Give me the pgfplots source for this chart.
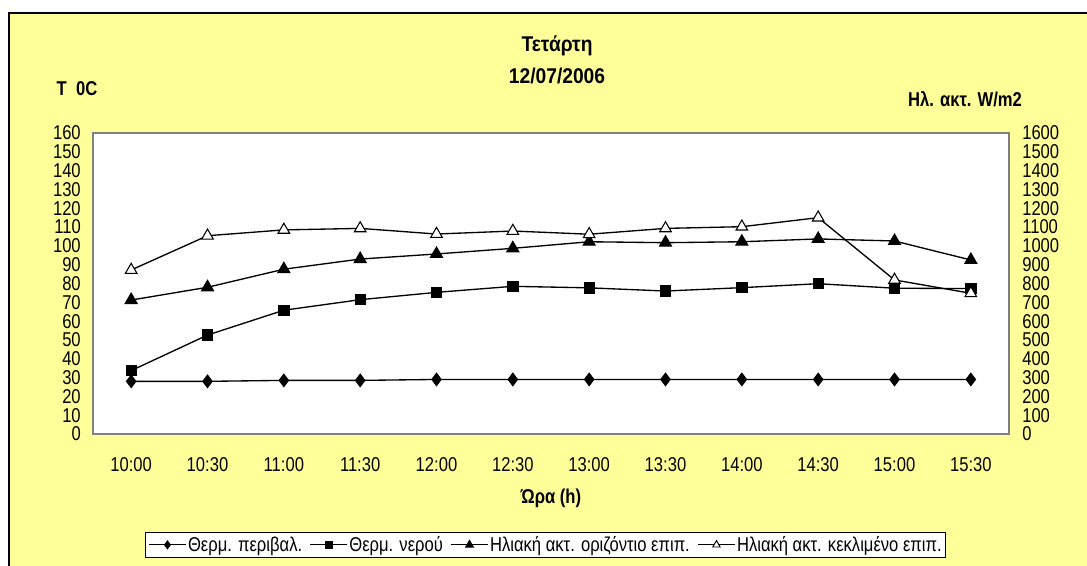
\documentclass[border=0pt]{standalone}
\usepackage{pgfplots}
\pgfplotsset{compat=1.18}
\usepackage{fontspec}
\setmainfont[FakeStretch=0.83]{Liberation Sans}
\newfontfamily\titlefont[FakeStretch=0.9]{Liberation Sans}
\definecolor{chartbg}{RGB}{255,255,153}
\definecolor{axgray}{RGB}{128,128,128}
\newcommand{\chfont}{\fontsize{15}{16}\selectfont}
\begin{document}
\begin{tikzpicture}
\begin{scope}[x=0.75pt,y=-0.75pt]
\useasboundingbox (0,0) rectangle (1087,565);
\fill[white] (0,0) rectangle (1087,565);
\begin{scope}
\clip (0,0) rectangle (1087,565);
\draw[fill=chartbg, draw=black, line width=1.1pt] (9,13) rectangle (1110,590);
\end{scope}
\end{scope}

\begin{axis}[
  at={(69.75pt,-325.5pt)}, anchor=south west,
  scale only axis, width=687pt, height=225.75pt,
  xmin=-0.5, xmax=11.5, ymin=0, ymax=160,
  axis background/.style={fill=white},
  axis line style={axgray, line width=1.1pt},
  xtick={0,...,11},
  xticklabels={10:00,10:30,11:00,11:30,12:00,12:30,13:00,13:30,14:00,14:30,15:00,15:30},
  ytick={0,10,...,160},
  ytick pos=left, xtick pos=bottom,
  major tick length=0pt,
  /pgf/number format/assume math mode=true,
  /pgf/number format/1000 sep={},
  tick label style={font=\chfont},
  yticklabel style={anchor=east, xshift=-9pt, inner sep=0pt},
  xticklabel style={anchor=north, yshift=-17.5pt, inner sep=0pt},
]
\addplot[black, line width=1pt, mark=diamond*, mark size=4.5pt, mark options={solid}] coordinates {(0,28)(1,28)(2,28.5)(3,28.5)(4,29)(5,29)(6,29)(7,29)(8,29)(9,29)(10,29)(11,29)};
\addplot[black, line width=1pt, mark=square*, mark size=3.75pt, mark options={solid}] coordinates {(0,33.7)(1,52.6)(2,65.8)(3,71.4)(4,75.3)(5,78.5)(6,77.7)(7,76.0)(8,77.8)(9,79.9)(10,77.5)(11,77.3)};
\end{axis}

\begin{axis}[
  at={(69.75pt,-325.5pt)}, anchor=south west,
  scale only axis, width=687pt, height=225.75pt,
  xmin=-0.5, xmax=11.5, ymin=0, ymax=1600,
  axis x line=none, axis y line*=right,
  axis line style={axgray, line width=1.1pt},
  ytick={0,100,...,1600},
  major tick length=0pt,
  /pgf/number format/assume math mode=true,
  /pgf/number format/1000 sep={},
  tick label style={font=\chfont},
  yticklabel style={anchor=west, xshift=9.75pt, inner sep=0pt},
  legend style={at={(0.0568,-0.325)}, anchor=north west, draw=black, line width=0.75pt, fill=white,
    font=\chfont, inner xsep=2pt, inner ysep=2pt,
    /tikz/every odd column/.append style={column sep=0pt},
    /tikz/every even column/.append style={column sep=4.5pt},
    nodes={inner sep=1pt}},
  legend columns=4,
  legend cell align=left,
  legend image code/.code={\draw[mark repeat=2,mark phase=2] plot coordinates {(0pt,0pt) (14pt,0pt) (28pt,0pt)};},
]
\addlegendimage{black, line width=0.9pt, mark=diamond*, mark size=2.8pt, mark options={solid}}
\addlegendentry{Θερμ. περιβαλ.}
\addlegendimage{black, line width=0.9pt, mark=square*, mark size=2.6pt, mark options={solid}}
\addlegendentry{Θερμ. νερού}
\addlegendimage{black, line width=0.9pt, mark=triangle*, mark size=3.2pt, mark options={solid}}
\addlegendentry{Ηλιακή ακτ. οριζόντιο επιπ.}
\addlegendimage{black, line width=0.9pt, mark=triangle*, mark size=3.2pt, mark options={solid, fill=white, line width=0.7pt}}
\addlegendentry{Ηλιακή ακτ. κεκλιμένο επιπ.}
\addplot[forget plot, black, line width=1pt, mark=triangle*, mark size=5pt, mark options={solid}] coordinates {(0,712)(1,780)(2,876)(3,930)(4,957)(5,987)(6,1022)(7,1017)(8,1022)(9,1037)(10,1026)(11,925)};
\addplot[forget plot, black, line width=1pt, mark=triangle*, mark size=5pt, mark options={solid, fill=white, line width=0.8pt}] coordinates {(0,872)(1,1054)(2,1085)(3,1093)(4,1063)(5,1079)(6,1062)(7,1093)(8,1102)(9,1150)(10,819)(11,748)};
\end{axis}

\begin{scope}[x=0.75pt,y=-0.75pt]
\node[font=\titlefont\bfseries\fontsize{16}{17}\selectfont] at (557,46) {Τετάρτη};
\node[font=\titlefont\bfseries\fontsize{16}{17}\selectfont] at (557,76) {12/07/2006};
\node[font=\bfseries\chfont] at (77,88.5) {T\ \ 0C};
\node[font=\bfseries\chfont] at (965,99) {Ηλ. ακτ. W/m2};
\node[font=\bfseries\chfont] at (551,498) {Ώρα (h)};
\end{scope}
\end{tikzpicture}
\end{document}
